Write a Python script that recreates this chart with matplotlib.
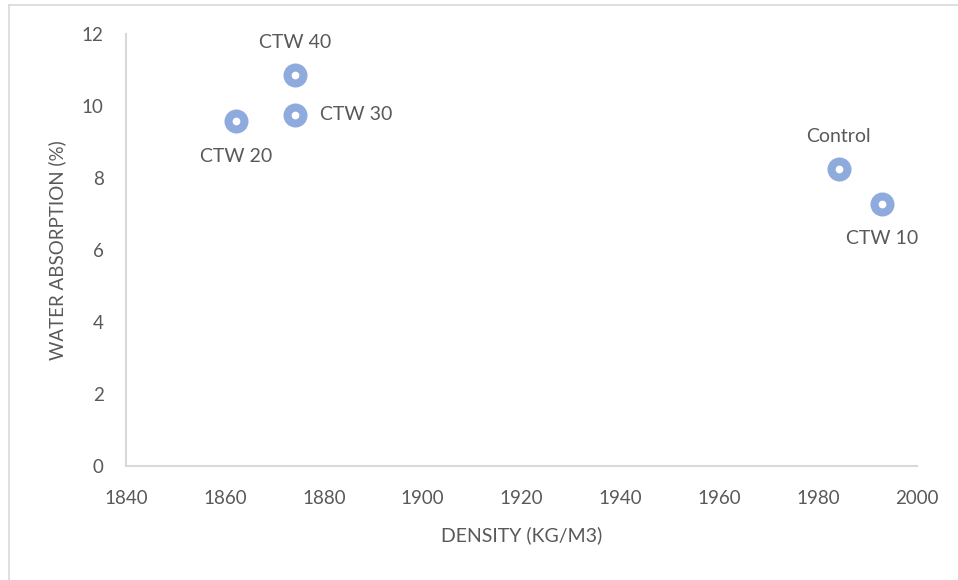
import matplotlib.pyplot as plt
from matplotlib.lines import Line2D

# data
names = ['Control', 'CTW 10', 'CTW 20', 'CTW 30', 'CTW 40']
density = [1984.2, 1992.9, 1862.2, 1874.2, 1874.2]
absorption = [8.25, 7.28, 9.58, 9.75, 10.86]
label_pos = ['above', 'below', 'below', 'right', 'above']

plt.rcParams['font.family'] = ['Lato', 'DejaVu Sans']
grey = '#595959'
blue = '#8FAADC'

fig = plt.figure(figsize=(9.58, 5.80), dpi=100)
ax = fig.add_axes([126 / 958, 1 - 466 / 580, (917 - 126) / 958, (466 - 34) / 580])

ax.plot(density, absorption, linestyle='none', marker='o', markersize=11.5,
        markerfacecolor='white', markeredgecolor=blue, markeredgewidth=5.8)

offsets = {'above': (0, 17, 'center', 'bottom'),
           'below': (0, -19, 'center', 'top'),
           'right': (18, 0, 'left', 'center')}
for name, x, y, pos in zip(names, density, absorption, label_pos):
    dx, dy, ha, va = offsets[pos]
    ax.annotate(name, (x, y), xytext=(dx, dy), textcoords='offset points',
                ha=ha, va=va, fontsize=14, color=grey)

ax.set_xlim(1840, 2000)
ax.set_ylim(0, 12)
ax.set_xticks(range(1840, 2001, 20))
ax.set_yticks(range(0, 13, 2))
ax.tick_params(axis='x', length=0, labelsize=13.5, labelcolor=grey, pad=17)
ax.tick_params(axis='y', length=0, labelsize=13.5, labelcolor=grey, pad=16)
for side in ['top', 'right']:
    ax.spines[side].set_visible(False)
for side in ['left', 'bottom']:
    ax.spines[side].set_color('#D9D9D9')
    ax.spines[side].set_linewidth(1.5)

ax.set_xlabel('DENSITY (KG/M3)', fontsize=14, color=grey, labelpad=14)
ax.set_ylabel('WATER ABSORPTION (%)', fontsize=13.5, color=grey, labelpad=11)

# chart area border (top and left visible in the crop)
fig.add_artist(Line2D([9 / 958, 1], [1 - 5 / 580, 1 - 5 / 580], color='#D9D9D9', lw=1.2))
fig.add_artist(Line2D([9 / 958, 9 / 958], [0, 1 - 5 / 580], color='#D9D9D9', lw=1.2))

fig.savefig('out.png', dpi=100)
